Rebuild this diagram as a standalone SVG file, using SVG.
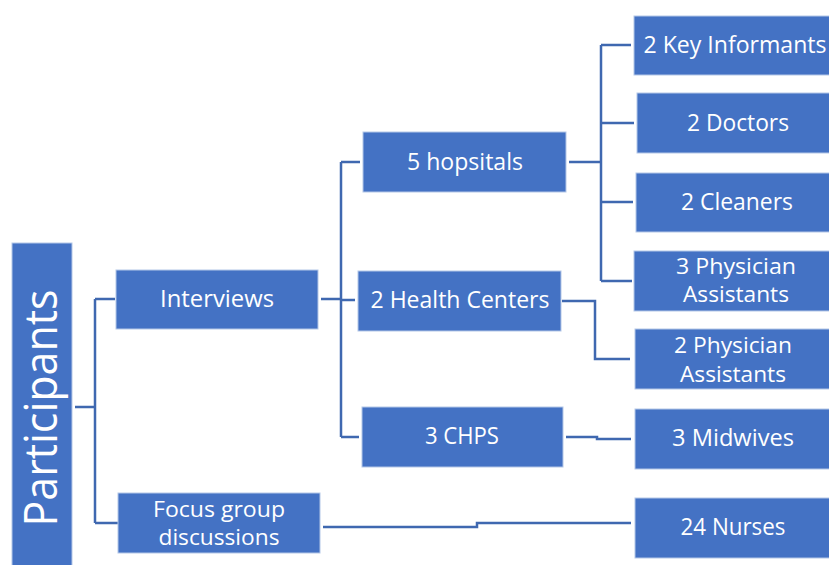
<svg xmlns="http://www.w3.org/2000/svg" width="829" height="565" viewBox="0 0 829 565">
  <style>
    .box { fill: #4472C4; stroke: #B4C7E7; stroke-width: 1; }
    .lbl { fill: #FFFFFF; font-family: "Open Sans", "Noto Sans", "Liberation Sans", sans-serif; font-size: 23.5px; text-anchor: middle; }
    .two { font-size: 22px; }
    .big { font-size: 45px; }
    .wire { fill: none; stroke: #3F68B0; stroke-width: 2.5; stroke-linejoin: miter; }
  </style>
  <rect x="0" y="0" width="829" height="565" fill="#FFFFFF"/>

  <!-- connectors -->
  <g id="connectors">
    <path class="wire" d="M75 407 H95 M95 299 V523 M95 299 H115 M95 523 H118"/>
    <path class="wire" d="M321 299 H341 M341 162 V437 M341 162 H360 M341 300 H355 M341 437 H359"/>
    <path class="wire" d="M569 162 H601 M601 45 V281 M601 45 H631 M601 123 H634 M601 202 H633 M601 281 H632"/>
    <path class="wire" d="M562 301 H595 V359 H630"/>
    <path class="wire" d="M566 437 H597 V439 H631"/>
    <path class="wire" d="M323 527 H477 V523 H631"/>
  </g>

  <!-- root -->
  <g id="participants">
    <rect class="box" x="12" y="243" width="60" height="330"/>
    <text class="lbl big" transform="translate(57 408) rotate(-90)" x="0" y="0" textLength="237" lengthAdjust="spacingAndGlyphs">Participants</text>
  </g>

  <!-- methods -->
  <g id="interviews">
    <rect class="box" x="116" y="270" width="202" height="59"/>
    <text class="lbl" x="217" y="307" textLength="114" lengthAdjust="spacingAndGlyphs">Interviews</text>
  </g>
  <g id="focus-groups">
    <rect class="box" x="118" y="493" width="202" height="60"/>
    <text class="lbl two" x="219" y="517" textLength="132" lengthAdjust="spacingAndGlyphs">Focus group</text>
    <text class="lbl two" x="219" y="545" textLength="121" lengthAdjust="spacingAndGlyphs">discussions</text>
  </g>

  <!-- facilities -->
  <g id="hospitals">
    <rect class="box" x="363" y="132" width="203" height="60"/>
    <text class="lbl" x="465" y="170" textLength="116" lengthAdjust="spacingAndGlyphs">5 hopsitals</text>
  </g>
  <g id="health-centers">
    <rect class="box" x="358" y="271" width="203" height="60"/>
    <text class="lbl" x="460" y="308" textLength="179" lengthAdjust="spacingAndGlyphs">2 Health Centers</text>
  </g>
  <g id="chps">
    <rect class="box" x="362" y="407" width="201" height="60"/>
    <text class="lbl" x="462" y="444" textLength="74" lengthAdjust="spacingAndGlyphs">3 CHPS</text>
  </g>

  <!-- respondents -->
  <g id="key-informants">
    <rect class="box" x="634" y="16" width="200" height="59"/>
    <text class="lbl" x="735" y="53" textLength="183" lengthAdjust="spacingAndGlyphs">2 Key Informants</text>
  </g>
  <g id="doctors">
    <rect class="box" x="637" y="93" width="200" height="60"/>
    <text class="lbl" x="738" y="131" textLength="102" lengthAdjust="spacingAndGlyphs">2 Doctors</text>
  </g>
  <g id="cleaners">
    <rect class="box" x="636" y="173" width="200" height="59"/>
    <text class="lbl" x="737" y="210" textLength="112" lengthAdjust="spacingAndGlyphs">2 Cleaners</text>
  </g>
  <g id="physician-assistants-3">
    <rect class="box" x="634" y="251" width="200" height="60"/>
    <text class="lbl two" x="736" y="274" textLength="120" lengthAdjust="spacingAndGlyphs">3 Physician</text>
    <text class="lbl two" x="736" y="302" textLength="106" lengthAdjust="spacingAndGlyphs">Assistants</text>
  </g>
  <g id="physician-assistants-2">
    <rect class="box" x="635" y="329" width="200" height="60"/>
    <text class="lbl two" x="733" y="353" textLength="118" lengthAdjust="spacingAndGlyphs">2 Physician</text>
    <text class="lbl two" x="733" y="382" textLength="106" lengthAdjust="spacingAndGlyphs">Assistants</text>
  </g>
  <g id="midwives">
    <rect class="box" x="635" y="409" width="200" height="60"/>
    <text class="lbl" x="733" y="446" textLength="122" lengthAdjust="spacingAndGlyphs">3 Midwives</text>
  </g>
  <g id="nurses">
    <rect class="box" x="635" y="498" width="200" height="60"/>
    <text class="lbl" x="733" y="535" textLength="105" lengthAdjust="spacingAndGlyphs">24 Nurses</text>
  </g>
</svg>
